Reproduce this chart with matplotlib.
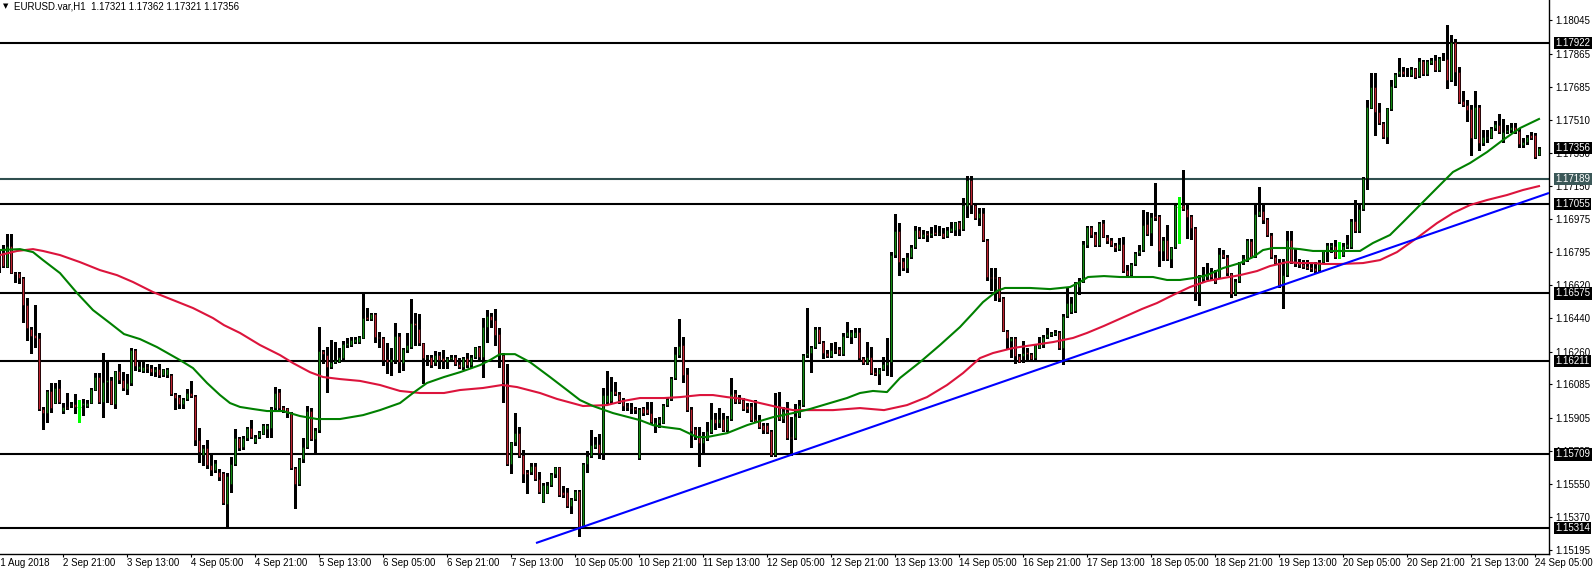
import matplotlib
matplotlib.use("Agg")
import matplotlib.pyplot as plt
import numpy as np
from matplotlib.transforms import blended_transform_factory

plt.rcParams['font.family'] = ['Liberation Sans', 'DejaVu Sans']

symbol = "EURUSD.var,H1"

# hourly candles, 31 Aug 2018 05:00 .. 24 Sep 2018 06:00
opens = [
    1.16781, 1.16797, 1.16716, 1.16830, 1.16684, 1.16684, 1.16657, 1.16512, 1.16383, 1.16351,
    1.16335, 1.15953, 1.15931, 1.16050, 1.15985, 1.16066, 1.15942, 1.15964, 1.15974, 1.15979,
    1.15964, 1.15974, 1.15969, 1.15985, 1.16055, 1.16125, 1.15990, 1.16098, 1.16109, 1.15979,
    1.16157, 1.16109, 1.16061, 1.16093, 1.16270, 1.16168, 1.16157, 1.16178, 1.16173, 1.16151,
    1.16168, 1.16135, 1.16135, 1.16135, 1.16033, 1.16017, 1.15979, 1.16007, 1.16039, 1.16023,
    1.15786, 1.15705, 1.15743, 1.15651, 1.15624, 1.15613, 1.15608, 1.15441, 1.15549, 1.15657,
    1.15797, 1.15748, 1.15797, 1.15850, 1.15775, 1.15802, 1.15818, 1.15845, 1.15850, 1.15958,
    1.16044, 1.15964, 1.15958, 1.15931, 1.15635, 1.15549, 1.15684, 1.15748, 1.15942, 1.15791,
    1.15840, 1.16265, 1.16243, 1.16178, 1.16205, 1.16205, 1.16227, 1.16297, 1.16297, 1.16313,
    1.16313, 1.16335, 1.16447, 1.16436, 1.16463, 1.16340, 1.16335, 1.16221, 1.16205, 1.16216,
    1.16346, 1.16200, 1.16270, 1.16286, 1.16415, 1.16383, 1.16308, 1.16227, 1.16232, 1.16200,
    1.16243, 1.16227, 1.16205, 1.16221, 1.16232, 1.16194, 1.16178, 1.16227, 1.16189, 1.16232,
    1.16286, 1.16232, 1.16394, 1.16453, 1.16431, 1.16356, 1.16243, 1.16093, 1.15657, 1.15775,
    1.15823, 1.15705, 1.15613, 1.15613, 1.15646, 1.15576, 1.15452, 1.15501, 1.15544, 1.15603,
    1.15640, 1.15506, 1.15506, 1.15431, 1.15468, 1.15512, 1.15318, 1.15657, 1.15700, 1.15748,
    1.15764, 1.15716, 1.15990, 1.15996, 1.16050, 1.16033, 1.16001, 1.15969, 1.15964, 1.15958,
    1.15689, 1.15958, 1.15953, 1.15931, 1.15866, 1.15877, 1.15877, 1.15974, 1.16007, 1.16120,
    1.16243, 1.16297, 1.16141, 1.15953, 1.15845, 1.15813, 1.15770, 1.15791, 1.15829, 1.15899,
    1.15877, 1.15899, 1.15840, 1.15899, 1.16039, 1.16007, 1.16001, 1.15969, 1.15969, 1.15899,
    1.15887, 1.15866, 1.15866, 1.15834, 1.15705, 1.15964, 1.15899, 1.15942, 1.15802, 1.15797,
    1.15915, 1.15974, 1.16243, 1.16254, 1.16286, 1.16383, 1.16313, 1.16254, 1.16238, 1.16268,
    1.16275, 1.16248, 1.16346, 1.16340, 1.16340, 1.16367, 1.16227, 1.16200, 1.16232, 1.16151,
    1.16141, 1.16168, 1.16189, 1.16205, 1.16781, 1.16910, 1.16749, 1.16711, 1.16770, 1.16824,
    1.16916, 1.16878, 1.16900, 1.16889, 1.16905, 1.16894, 1.16900, 1.16884, 1.16910, 1.16916,
    1.16958, 1.16921, 1.17045, 1.17185, 1.17050, 1.16980, 1.17007, 1.16862, 1.16662, 1.16662,
    1.16662, 1.16550, 1.16372, 1.16319, 1.16335, 1.16238, 1.16238, 1.16259, 1.16248, 1.16227,
    1.16281, 1.16297, 1.16340, 1.16351, 1.16356, 1.16367, 1.16281, 1.16453, 1.16474, 1.16480,
    1.16609, 1.16636, 1.16835, 1.16932, 1.16894, 1.16835, 1.16953, 1.16878, 1.16862, 1.16835,
    1.16813, 1.16840, 1.16700, 1.16673, 1.16732, 1.16792, 1.16808, 1.16948, 1.16900, 1.16991,
    1.16991, 1.16803, 1.16862, 1.16760, 1.16824, 1.17039, 1.17050, 1.17028, 1.16991, 1.16926,
    1.16582, 1.16652, 1.16662, 1.16684, 1.16662, 1.16662, 1.16786, 1.16770, 1.16684, 1.16571,
    1.16641, 1.16738, 1.16754, 1.16857, 1.16770, 1.16996, 1.17018, 1.16975, 1.16889, 1.16770,
    1.16738, 1.16620, 1.16673, 1.16862, 1.16749, 1.16743, 1.16732, 1.16722, 1.16716, 1.16711,
    1.16700, 1.16743, 1.16797, 1.16824, 1.16830, 1.16803, 1.16781, 1.16824, 1.16824, 1.16964,
    1.16910, 1.17028, 1.17195, 1.17572, 1.17685, 1.17550, 1.17491, 1.17416, 1.17566, 1.17690,
    1.17755, 1.17771, 1.17755, 1.17750, 1.17787, 1.17744, 1.17825, 1.17755, 1.17814, 1.17830,
    1.17777, 1.17836, 1.17836, 1.17723, 1.17927, 1.17766, 1.17610, 1.17588, 1.17566, 1.17411,
    1.17577, 1.17384, 1.17411, 1.17411, 1.17464, 1.17480, 1.17411, 1.17443, 1.17454, 1.17470,
    1.17448, 1.17373, 1.17389, 1.17427, 1.17427, 1.17321,
]
highs = [
    1.16808, 1.16835, 1.16894, 1.16894, 1.16689, 1.16689, 1.16662, 1.16550, 1.16394, 1.16512,
    1.16362, 1.15964, 1.16055, 1.16093, 1.16093, 1.16109, 1.15985, 1.16039, 1.15990, 1.16033,
    1.16001, 1.16007, 1.16001, 1.16066, 1.16146, 1.16146, 1.16254, 1.16216, 1.16125, 1.16157,
    1.16194, 1.16151, 1.16141, 1.16281, 1.16275, 1.16216, 1.16205, 1.16194, 1.16189, 1.16178,
    1.16194, 1.16168, 1.16173, 1.16141, 1.16039, 1.16028, 1.16012, 1.16061, 1.16104, 1.16028,
    1.15850, 1.15759, 1.15786, 1.15705, 1.15678, 1.15630, 1.15613, 1.15608, 1.15694, 1.15845,
    1.15802, 1.15807, 1.15856, 1.15893, 1.15813, 1.15834, 1.15872, 1.15872, 1.15964, 1.16071,
    1.16061, 1.15969, 1.15958, 1.15936, 1.15640, 1.15689, 1.15797, 1.15969, 1.15958, 1.15850,
    1.16394, 1.16270, 1.16286, 1.16324, 1.16313, 1.16281, 1.16319, 1.16335, 1.16340, 1.16340,
    1.16346, 1.16582, 1.16496, 1.16469, 1.16469, 1.16367, 1.16340, 1.16308, 1.16281, 1.16415,
    1.16362, 1.16281, 1.16362, 1.16544, 1.16469, 1.16463, 1.16308, 1.16243, 1.16243, 1.16265,
    1.16259, 1.16270, 1.16232, 1.16243, 1.16243, 1.16227, 1.16232, 1.16254, 1.16243, 1.16286,
    1.16292, 1.16442, 1.16485, 1.16469, 1.16491, 1.16388, 1.16254, 1.16194, 1.15775, 1.15931,
    1.15856, 1.15732, 1.15624, 1.15662, 1.15662, 1.15613, 1.15555, 1.15560, 1.15608, 1.15640,
    1.15640, 1.15539, 1.15528, 1.15474, 1.15517, 1.15517, 1.15662, 1.15727, 1.15840, 1.15802,
    1.15818, 1.16066, 1.16157, 1.16125, 1.16098, 1.16044, 1.16012, 1.15985, 1.15985, 1.15964,
    1.15958, 1.15964, 1.15990, 1.15990, 1.15904, 1.15909, 1.15979, 1.16017, 1.16125, 1.16286,
    1.16436, 1.16340, 1.16173, 1.15964, 1.15856, 1.15856, 1.15829, 1.15882, 1.15985, 1.15931,
    1.15958, 1.15931, 1.15915, 1.16120, 1.16055, 1.16028, 1.16012, 1.15985, 1.15985, 1.16001,
    1.15920, 1.15877, 1.15877, 1.15840, 1.16039, 1.16044, 1.15964, 1.15990, 1.15909, 1.15979,
    1.16001, 1.16248, 1.16496, 1.16292, 1.16394, 1.16394, 1.16319, 1.16270, 1.16308, 1.16313,
    1.16286, 1.16362, 1.16420, 1.16378, 1.16388, 1.16388, 1.16232, 1.16313, 1.16286, 1.16173,
    1.16173, 1.16232, 1.16335, 1.16797, 1.17001, 1.16953, 1.16765, 1.16792, 1.16835, 1.16937,
    1.16932, 1.16916, 1.16910, 1.16932, 1.16942, 1.16937, 1.16926, 1.16932, 1.16958, 1.16958,
    1.16964, 1.17088, 1.17206, 1.17206, 1.17061, 1.17034, 1.17034, 1.16867, 1.16711, 1.16711,
    1.16662, 1.16555, 1.16378, 1.16340, 1.16340, 1.16248, 1.16319, 1.16281, 1.16254, 1.16302,
    1.16340, 1.16351, 1.16388, 1.16367, 1.16378, 1.16372, 1.16463, 1.16609, 1.16555, 1.16636,
    1.16657, 1.16857, 1.16937, 1.16937, 1.16905, 1.16958, 1.16969, 1.16889, 1.16873, 1.16846,
    1.16873, 1.16878, 1.16727, 1.16738, 1.16797, 1.16835, 1.17023, 1.17012, 1.17007, 1.17169,
    1.16996, 1.16878, 1.16942, 1.16824, 1.17061, 1.17093, 1.17238, 1.17061, 1.16996, 1.16932,
    1.16673, 1.16716, 1.16738, 1.16711, 1.16700, 1.16819, 1.16808, 1.16781, 1.16684, 1.16652,
    1.16743, 1.16781, 1.16867, 1.16867, 1.17050, 1.17147, 1.17050, 1.16980, 1.16900, 1.16781,
    1.16760, 1.16760, 1.16910, 1.16910, 1.16819, 1.16760, 1.16754, 1.16754, 1.16738, 1.16743,
    1.16754, 1.16808, 1.16846, 1.16846, 1.16862, 1.16851, 1.16846, 1.16889, 1.16975, 1.17077,
    1.17050, 1.17200, 1.17615, 1.17761, 1.17761, 1.17599, 1.17496, 1.17572, 1.17723, 1.17761,
    1.17841, 1.17793, 1.17787, 1.17793, 1.17787, 1.17841, 1.17830, 1.17830, 1.17841, 1.17857,
    1.17846, 1.17868, 1.18018, 1.17965, 1.17943, 1.17793, 1.17664, 1.17615, 1.17588, 1.17664,
    1.17588, 1.17454, 1.17454, 1.17470, 1.17502, 1.17539, 1.17513, 1.17480, 1.17491, 1.17491,
    1.17464, 1.17411, 1.17427, 1.17443, 1.17437, 1.17362,
]
lows = [
    1.16689, 1.16716, 1.16716, 1.16684, 1.16636, 1.16631, 1.16420, 1.16324, 1.16254, 1.16286,
    1.15947, 1.15845, 1.15882, 1.15936, 1.15985, 1.15985, 1.15931, 1.15953, 1.15964, 1.15931,
    1.15882, 1.15920, 1.15964, 1.15985, 1.16055, 1.15985, 1.15910, 1.15990, 1.15979, 1.15958,
    1.16093, 1.16055, 1.16033, 1.16082, 1.16162, 1.16157, 1.16151, 1.16151, 1.16135, 1.16130,
    1.16125, 1.16130, 1.16125, 1.16028, 1.15953, 1.15958, 1.15958, 1.16001, 1.16017, 1.15759,
    1.15667, 1.15651, 1.15635, 1.15597, 1.15613, 1.15571, 1.15441, 1.15313, 1.15506, 1.15651,
    1.15732, 1.15737, 1.15786, 1.15797, 1.15770, 1.15797, 1.15818, 1.15802, 1.15802, 1.15947,
    1.15953, 1.15936, 1.15910, 1.15630, 1.15420, 1.15544, 1.15667, 1.15743, 1.15786, 1.15716,
    1.15829, 1.16200, 1.16044, 1.16173, 1.16200, 1.16205, 1.16221, 1.16286, 1.16292, 1.16308,
    1.16308, 1.16335, 1.16431, 1.16431, 1.16313, 1.16286, 1.16189, 1.16146, 1.16135, 1.16200,
    1.16151, 1.16162, 1.16259, 1.16281, 1.16297, 1.16297, 1.16093, 1.16189, 1.16178, 1.16189,
    1.16173, 1.16173, 1.16173, 1.16216, 1.16189, 1.16173, 1.16168, 1.16178, 1.16178, 1.16227,
    1.16216, 1.16125, 1.16313, 1.16394, 1.16297, 1.16178, 1.15990, 1.15651, 1.15608, 1.15759,
    1.15694, 1.15560, 1.15501, 1.15603, 1.15571, 1.15501, 1.15452, 1.15501, 1.15539, 1.15587,
    1.15485, 1.15479, 1.15425, 1.15393, 1.15463, 1.15270, 1.15313, 1.15613, 1.15694, 1.15743,
    1.15689, 1.15684, 1.15985, 1.15985, 1.16028, 1.15985, 1.15947, 1.15947, 1.15931, 1.15931,
    1.15684, 1.15920, 1.15926, 1.15877, 1.15829, 1.15856, 1.15877, 1.15969, 1.16001, 1.16114,
    1.16232, 1.16098, 1.15942, 1.15748, 1.15791, 1.15646, 1.15721, 1.15786, 1.15823, 1.15845,
    1.15856, 1.15834, 1.15834, 1.15893, 1.15985, 1.15985, 1.15947, 1.15936, 1.15887, 1.15882,
    1.15850, 1.15823, 1.15823, 1.15700, 1.15700, 1.15893, 1.15882, 1.15791, 1.15705, 1.15791,
    1.15909, 1.15969, 1.16232, 1.16151, 1.16281, 1.16308, 1.16227, 1.16232, 1.16232, 1.16254,
    1.16243, 1.16243, 1.16340, 1.16308, 1.16340, 1.16221, 1.16194, 1.16194, 1.16141, 1.16135,
    1.16087, 1.16162, 1.16135, 1.16130, 1.16770, 1.16673, 1.16700, 1.16689, 1.16765, 1.16819,
    1.16873, 1.16873, 1.16857, 1.16878, 1.16889, 1.16889, 1.16873, 1.16878, 1.16905, 1.16889,
    1.16889, 1.16916, 1.16985, 1.17007, 1.16975, 1.16942, 1.16857, 1.16647, 1.16593, 1.16539,
    1.16534, 1.16372, 1.16281, 1.16232, 1.16200, 1.16205, 1.16205, 1.16210, 1.16216, 1.16216,
    1.16281, 1.16286, 1.16335, 1.16346, 1.16351, 1.16275, 1.16194, 1.16447, 1.16469, 1.16474,
    1.16571, 1.16636, 1.16824, 1.16878, 1.16830, 1.16830, 1.16878, 1.16846, 1.16830, 1.16803,
    1.16808, 1.16689, 1.16668, 1.16668, 1.16727, 1.16781, 1.16803, 1.16889, 1.16835, 1.16969,
    1.16722, 1.16754, 1.16754, 1.16716, 1.16819, 1.16846, 1.17023, 1.16873, 1.16867, 1.16539,
    1.16512, 1.16641, 1.16652, 1.16647, 1.16631, 1.16657, 1.16765, 1.16673, 1.16555, 1.16566,
    1.16636, 1.16732, 1.16749, 1.16770, 1.16770, 1.16991, 1.16953, 1.16884, 1.16765, 1.16732,
    1.16609, 1.16496, 1.16668, 1.16738, 1.16722, 1.16716, 1.16711, 1.16705, 1.16695, 1.16689,
    1.16695, 1.16738, 1.16749, 1.16797, 1.16765, 1.16765, 1.16776, 1.16819, 1.16819, 1.16905,
    1.16905, 1.17023, 1.17136, 1.17572, 1.17427, 1.17486, 1.17411, 1.17384, 1.17561, 1.17685,
    1.17744, 1.17744, 1.17744, 1.17744, 1.17734, 1.17739, 1.17750, 1.17750, 1.17809, 1.17771,
    1.17771, 1.17830, 1.17680, 1.17718, 1.17696, 1.17599, 1.17583, 1.17502, 1.17319, 1.17411,
    1.17346, 1.17373, 1.17389, 1.17411, 1.17454, 1.17437, 1.17389, 1.17437, 1.17443, 1.17437,
    1.17362, 1.17362, 1.17378, 1.17405, 1.17303, 1.17321,
]
closes = [
    1.16722, 1.16722, 1.16830, 1.16684, 1.16678, 1.16657, 1.16512, 1.16388, 1.16346, 1.16335,
    1.15953, 1.15931, 1.16050, 1.15958, 1.16066, 1.15990, 1.15964, 1.15958, 1.15979, 1.15964,
    1.15964, 1.15985, 1.15985, 1.16061, 1.16125, 1.15990, 1.16098, 1.16109, 1.15979, 1.16157,
    1.16109, 1.16066, 1.16093, 1.16270, 1.16184, 1.16184, 1.16178, 1.16175, 1.16151, 1.16168,
    1.16135, 1.16168, 1.16168, 1.16033, 1.16012, 1.15979, 1.16007, 1.16039, 1.16023, 1.15786,
    1.15721, 1.15743, 1.15651, 1.15624, 1.15662, 1.15587, 1.15447, 1.15592, 1.15657, 1.15797,
    1.15743, 1.15797, 1.15850, 1.15802, 1.15802, 1.15829, 1.15866, 1.15866, 1.15958, 1.16039,
    1.15958, 1.15947, 1.15931, 1.15635, 1.15549, 1.15684, 1.15748, 1.15942, 1.15791, 1.15840,
    1.16265, 1.16248, 1.16178, 1.16205, 1.16216, 1.16232, 1.16302, 1.16308, 1.16324, 1.16329,
    1.16340, 1.16442, 1.16436, 1.16463, 1.16340, 1.16335, 1.16216, 1.16205, 1.16221, 1.16346,
    1.16205, 1.16275, 1.16297, 1.16415, 1.16404, 1.16308, 1.16227, 1.16232, 1.16189, 1.16243,
    1.16216, 1.16210, 1.16227, 1.16232, 1.16194, 1.16178, 1.16227, 1.16189, 1.16232, 1.16286,
    1.16232, 1.16394, 1.16453, 1.16431, 1.16351, 1.16243, 1.16093, 1.15657, 1.15775, 1.15823,
    1.15700, 1.15603, 1.15603, 1.15646, 1.15576, 1.15506, 1.15544, 1.15544, 1.15603, 1.15640,
    1.15490, 1.15490, 1.15431, 1.15468, 1.15512, 1.15313, 1.15657, 1.15700, 1.15759, 1.15764,
    1.15716, 1.16028, 1.16028, 1.16050, 1.16033, 1.16001, 1.15969, 1.15964, 1.15958, 1.15947,
    1.15953, 1.15931, 1.15931, 1.15882, 1.15882, 1.15899, 1.15974, 1.16007, 1.16120, 1.16248,
    1.16292, 1.16135, 1.15947, 1.15834, 1.15813, 1.15770, 1.15797, 1.15834, 1.15899, 1.15877,
    1.15899, 1.15840, 1.15904, 1.16033, 1.15990, 1.15990, 1.15953, 1.15953, 1.15893, 1.15887,
    1.15856, 1.15840, 1.15829, 1.15705, 1.15964, 1.15899, 1.15942, 1.15797, 1.15797, 1.15915,
    1.15974, 1.16243, 1.16254, 1.16286, 1.16383, 1.16313, 1.16254, 1.16238, 1.16270, 1.16267,
    1.16248, 1.16346, 1.16367, 1.16367, 1.16367, 1.16227, 1.16200, 1.16232, 1.16146, 1.16141,
    1.16168, 1.16194, 1.16205, 1.16781, 1.16910, 1.16743, 1.16711, 1.16770, 1.16824, 1.16916,
    1.16878, 1.16894, 1.16889, 1.16900, 1.16894, 1.16900, 1.16878, 1.16916, 1.16926, 1.16958,
    1.16921, 1.17050, 1.17185, 1.17050, 1.16980, 1.17007, 1.16862, 1.16662, 1.16657, 1.16657,
    1.16550, 1.16372, 1.16335, 1.16335, 1.16238, 1.16205, 1.16254, 1.16248, 1.16221, 1.16297,
    1.16302, 1.16340, 1.16356, 1.16362, 1.16367, 1.16281, 1.16453, 1.16523, 1.16523, 1.16636,
    1.16636, 1.16840, 1.16932, 1.16889, 1.16835, 1.16953, 1.16878, 1.16857, 1.16835, 1.16819,
    1.16840, 1.16695, 1.16673, 1.16732, 1.16792, 1.16808, 1.16942, 1.16894, 1.16985, 1.16980,
    1.16803, 1.16862, 1.16760, 1.16824, 1.17050, 1.17039, 1.17028, 1.16985, 1.16926, 1.16582,
    1.16657, 1.16673, 1.16678, 1.16662, 1.16636, 1.16786, 1.16770, 1.16684, 1.16571, 1.16641,
    1.16738, 1.16765, 1.16862, 1.16770, 1.17001, 1.17018, 1.16969, 1.16889, 1.16770, 1.16738,
    1.16620, 1.16673, 1.16862, 1.16743, 1.16732, 1.16727, 1.16716, 1.16711, 1.16705, 1.16695,
    1.16738, 1.16803, 1.16835, 1.16835, 1.16770, 1.16803, 1.16830, 1.16840, 1.16964, 1.16910,
    1.17028, 1.17195, 1.17577, 1.17685, 1.17550, 1.17491, 1.17416, 1.17572, 1.17690, 1.17755,
    1.17771, 1.17755, 1.17753, 1.17782, 1.17739, 1.17825, 1.17755, 1.17825, 1.17830, 1.17777,
    1.17841, 1.17834, 1.17723, 1.17927, 1.17766, 1.17604, 1.17588, 1.17561, 1.17411, 1.17577,
    1.17384, 1.17416, 1.17416, 1.17464, 1.17486, 1.17443, 1.17443, 1.17454, 1.17470, 1.17443,
    1.17378, 1.17389, 1.17416, 1.17411, 1.17308, 1.17356,
]

# moving averages: bar index -> price
ma_fast_x = [0.25, 5.25, 8.5, 11, 15.25, 19.5, 23.5, 27.75, 31.25, 35.25,
             39.5, 45.25, 48.5, 52, 55.25, 57.75, 60.25, 63.5, 67, 71,
             75.25, 79.5, 85.25, 91, 95.25, 100.25, 103.5, 107, 111.25, 115.25,
             120.25, 122.75, 125.25, 129, 132.75, 137.75, 142, 145.25, 148.5, 153.5,
             160.25, 163.5, 166.25, 170.25, 174.5, 177, 182, 187, 191, 193.5,
             198.5, 202.75, 207.75, 212, 215.25, 218.5, 222, 225.25, 230.25, 235.25,
             240.25, 243.5, 246, 249.5, 251.5, 257.75, 262.75, 267.75, 270.25, 272.25,
             276.25, 280.25, 285.25, 288.5, 292, 295.25, 298.5, 302, 306, 310.25,
             313.5, 316, 318.5, 322, 325.25, 328.5, 331.25, 335.25, 340.25, 343.5,
             347.75, 351, 355.25, 359.5, 363.5, 367.75, 372, 376, 380.25, 385]
ma_fast_y = [1.16808, 1.16813, 1.16797, 1.16754, 1.16684, 1.16577, 1.16485, 1.16415, 1.16356, 1.16329,
             1.16286, 1.16216, 1.16173, 1.16093, 1.16028, 1.15985, 1.15964, 1.15953, 1.15942, 1.15942,
             1.15915, 1.15899, 1.15899, 1.15920, 1.15947, 1.15985, 1.16039, 1.16093, 1.16125, 1.16151,
             1.16189, 1.16216, 1.16248, 1.16248, 1.16205, 1.16125, 1.16055, 1.16001, 1.15969, 1.15931,
             1.15893, 1.15866, 1.15856, 1.15845, 1.15802, 1.15802, 1.15823, 1.15866, 1.15893, 1.15909,
             1.15931, 1.15953, 1.15985, 1.16012, 1.16039, 1.16050, 1.16044, 1.16120, 1.16205, 1.16297,
             1.16394, 1.16469, 1.16528, 1.16588, 1.16604, 1.16604, 1.16598, 1.16609, 1.16636, 1.16663,
             1.16668, 1.16663, 1.16663, 1.16663, 1.16647, 1.16647, 1.16657, 1.16673, 1.16711, 1.16738,
             1.16770, 1.16808, 1.16819, 1.16819, 1.16813, 1.16803, 1.16803, 1.16803, 1.16803, 1.16846,
             1.16889, 1.16958, 1.17050, 1.17142, 1.17228, 1.17276, 1.17335, 1.17400, 1.17464, 1.17513]

ma_slow_x = [0.25, 4.5, 8.5, 11, 15.25, 20.25, 25.25, 29.5, 33.5, 38.5,
             43.5, 48.5, 53.5, 56.25, 60.25, 65.25, 70.25, 73.5, 77.75, 81,
             85.25, 90.25, 95.25, 100.25, 105.25, 111.25, 115.25, 121, 125.75, 129.5,
             135.25, 139.5, 146, 152, 156, 160.25, 166.25, 170.25, 175.25, 178.5,
             182, 186, 190.25, 194.5, 198.5, 202.75, 208.5, 215.25, 221.25, 227,
             232, 237, 241, 245.25, 248.5, 253.5, 258.5, 263.5, 268.5, 272,
             276.25, 285.75, 289.5, 293.5, 297.75, 302, 306, 310.25, 314.5, 317.75,
             322, 325.25, 328.5, 331.25, 335.25, 341, 345.25, 349.5, 354.5, 359.5,
             363.5, 367.75, 372, 377, 381, 385]
ma_slow_y = [1.16781, 1.16803, 1.16813, 1.16803, 1.16781, 1.16743, 1.16700, 1.16673, 1.16636, 1.16582,
             1.16539, 1.16496, 1.16442, 1.16404, 1.16362, 1.16297, 1.16243, 1.16200, 1.16151, 1.16125,
             1.16114, 1.16104, 1.16082, 1.16050, 1.16039, 1.16039, 1.16055, 1.16066, 1.16082, 1.16071,
             1.16039, 1.16007, 1.15969, 1.15974, 1.15996, 1.16012, 1.16012, 1.16017, 1.16028, 1.16028,
             1.16017, 1.16007, 1.15985, 1.15964, 1.15947, 1.15947, 1.15947, 1.15958, 1.15947, 1.15974,
             1.16017, 1.16082, 1.16146, 1.16227, 1.16254, 1.16281, 1.16297, 1.16313, 1.16335, 1.16362,
             1.16400, 1.16491, 1.16523, 1.16566, 1.16609, 1.16641, 1.16657, 1.16673, 1.16695, 1.16722,
             1.16743, 1.16738, 1.16738, 1.16733, 1.16733, 1.16738, 1.16754, 1.16797, 1.16873, 1.16953,
             1.17007, 1.17050, 1.17077, 1.17104, 1.17131, 1.17152]

# trend line anchors (bar index, price)
trend_x = [134.25, 387.5]
trend_y = [1.15232, 1.17115]

levels = [1.17922, 1.17055, 1.16575, 1.16211, 1.15709, 1.15314]
level_grey = 1.17189

price_ticks = [1.18045, 1.17865, 1.17685, 1.17510, 1.17330, 1.17150, 1.16975, 1.16795,
               1.16620, 1.16440, 1.16260, 1.16085, 1.15905, 1.15725, 1.15550, 1.15370, 1.15195]

first_label = "31 Aug 2018"
time_labels = ["2 Sep 21:00", "3 Sep 13:00", "4 Sep 05:00", "4 Sep 21:00", "5 Sep 13:00",
               "6 Sep 05:00", "6 Sep 21:00", "7 Sep 13:00", "10 Sep 05:00", "10 Sep 21:00",
               "11 Sep 13:00", "12 Sep 05:00", "12 Sep 21:00", "13 Sep 13:00", "14 Sep 05:00",
               "16 Sep 21:00", "17 Sep 13:00", "18 Sep 05:00", "18 Sep 21:00", "19 Sep 13:00",
               "20 Sep 05:00", "20 Sep 21:00", "21 Sep 13:00", "24 Sep 05:00"]
bars_per_label = 16

o = np.array(opens)
h = np.array(highs)
l = np.array(lows)
c = np.array(closes)
x = np.arange(len(c))
up = c > o
dn = c < o
doji = c == o

W, H = 1593, 569
fig = plt.figure(figsize=(W / 100, H / 100), dpi=100)
fig.patch.set_facecolor('white')
ax = fig.add_axes([0, 15 / H, 1549 / W, 554 / H])
ax.set_xlim(0.25, 387.5)
ax.set_ylim(1.15173, 1.18153)

for lv in levels:
    ax.axhline(lv, color='black', lw=1.5, zorder=2)
ax.axhline(level_grey, color='#2f4f4f', lw=1.5, zorder=2)

# candles
ax.vlines(x[~doji], l[~doji], h[~doji], color='black', lw=0.8, zorder=3, antialiased=False)
ax.vlines(x[doji], l[doji], h[doji], color='#00ff00', lw=0.8, zorder=3, antialiased=False)
ax.bar(x[up], (c - o)[up], bottom=o[up], width=0.72, color='#128a12',
       edgecolor='black', linewidth=0.4, zorder=4)
ax.bar(x[dn], (c - o)[dn], bottom=o[dn], width=0.72, color='#bd2430',
       edgecolor='black', linewidth=0.4, zorder=4)
ax.hlines(c[doji], x[doji] - 0.4, x[doji] + 0.4, color='#00ff00', lw=0.8, zorder=4)

# indicators
ax.plot(ma_slow_x, ma_slow_y, color='#dc143c', lw=1.5, zorder=5)
ax.plot(ma_fast_x, ma_fast_y, color='#008000', lw=1.5, zorder=5)
ax.plot(trend_x, trend_y, color='#0000ff', lw=1.5, zorder=5, solid_capstyle='butt')

# axes styling (MT4 look)
ax.spines['top'].set_visible(False)
ax.spines['left'].set_visible(False)
ax.spines['right'].set_linewidth(1.0)
ax.spines['bottom'].set_linewidth(1.0)
ax.yaxis.tick_right()
ax.set_yticks(price_ticks)
ax.set_yticklabels([f"{v:.5f}" for v in price_ticks])
ax.tick_params(axis='y', length=2, width=0.8, pad=2.5, labelsize=7)

tick_bars = [bars_per_label * (k + 1) for k in range(len(time_labels))]
ax.set_xticks(tick_bars)
ax.set_xticklabels(time_labels, ha='left')
ax.tick_params(axis='x', length=2.5, width=0.8, pad=0.5, labelsize=7)

bt = blended_transform_factory(ax.transData, ax.transAxes)
ax.annotate(first_label, xy=(-1, 0), xycoords=bt, xytext=(0, -3.0), textcoords='offset points',
            ha='left', va='top', fontsize=7, annotation_clip=False)

# price labels on the right scale
rt = blended_transform_factory(ax.transAxes, ax.transData)
box_items = [(lv, 'black') for lv in levels] + [(level_grey, '#3b5858'), (c[-1], 'black')]
for val, fc in box_items:
    ax.annotate(f"{val:.5f}", xy=(1, val), xycoords=rt, xytext=(4.6, 0), textcoords='offset points',
                ha='left', va='center', fontsize=7, color='white', zorder=20,
                bbox=dict(boxstyle='square,pad=0.12', fc=fc, ec='none'),
                annotation_clip=False)

# header
fig.text(3 / W, 1 - 6.5 / H, "\u25bc", fontsize=5, family='DejaVu Sans', va='center', ha='left')
fig.text(14 / W, 1 - 6.5 / H,
         f"{symbol}  {o[-1]:.5f} {h[-1]:.5f} {l[-1]:.5f} {c[-1]:.5f}",
         fontsize=7, va='center', ha='left')

fig.savefig('out.png', dpi=100, facecolor='white')
